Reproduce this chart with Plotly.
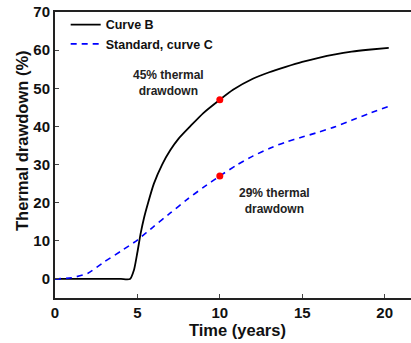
import plotly.graph_objects as go

# curve B (solid black)
b_years = [0, 1, 2, 3, 4, 4.55, 4.8, 5.0, 5.2, 5.4, 5.65, 6.0, 6.5, 7.0, 7.5, 8.2, 9.0,
           10.0, 10.8, 12.0, 13.0, 14.0, 15.0, 16.0, 17.0, 18.0, 19.0, 20.25]
b_drawdown = [0, 0, 0, 0, 0, 0, 2.5, 7, 12, 16, 20, 25, 30, 33.8, 36.8, 40, 43.5,
              47, 49.6, 52.5, 54.2, 55.6, 56.9, 58.0, 58.9, 59.6, 60.1, 60.6]

# standard, curve C (dashed blue)
c_years = [0, 1, 2, 3, 4, 5, 6, 7, 8, 9, 10, 11, 12, 13, 14, 15, 16, 17, 18, 19, 20.2]
c_drawdown = [0, 0.3, 1.5, 4.5, 7.3, 10.2, 13.8, 17.3, 20.8, 24, 27, 29.8, 32.2, 34.2,
              35.9, 37.2, 38.5, 39.9, 41.6, 43.3, 45.2]

# highlighted points at 10 years
dot_years = [10, 10]
dot_drawdown = [47, 27]

font = "Liberation Sans"
bold = dict(family=font, weight=700)

fig = go.Figure()
fig.add_trace(go.Scatter(x=b_years, y=b_drawdown, mode="lines", name="Curve B",
                         line=dict(color="black", width=1.8, shape="spline", smoothing=0.6)))
fig.add_trace(go.Scatter(x=c_years, y=c_drawdown, mode="lines", name="Standard, curve C",
                         line=dict(color="#0000ff", width=1.6, dash="6px,5px",
                                   shape="spline", smoothing=0.6)))
fig.add_trace(go.Scatter(x=dot_years, y=dot_drawdown, mode="markers", showlegend=False,
                         marker=dict(color="#ff0000", size=7)))

fig.add_annotation(x=6.9, y=51.5, text="45% thermal<br>drawdown", showarrow=False,
                   font=dict(size=12, color="#222222", **bold))
fig.add_annotation(x=13.3, y=20.5, text="29% thermal<br>drawdown", showarrow=False,
                   font=dict(size=12, color="#222222", **bold))

# axis titles as annotations so they sit where the original has them
fig.add_annotation(xref="paper", yref="paper", x=0.513, y=-0.112, text="Time (years)",
                   showarrow=False, yanchor="middle", font=dict(size=16.5, color="#111111", **bold))
fig.add_annotation(xref="paper", yref="paper", x=-0.093, y=0.552, text="Thermal drawdown (%)",
                   showarrow=False, textangle=-90, xanchor="center", yanchor="middle",
                   font=dict(size=16.5, color="#111111", **bold))

fig.update_layout(
    width=411, height=343,
    margin=dict(l=55, r=0, t=12, b=45),
    plot_bgcolor="white", paper_bgcolor="white",
    font=dict(color="#111111", **bold),
    showlegend=True,
    legend=dict(x=0.03, y=1.007, xanchor="left", yanchor="top", bgcolor="rgba(0,0,0,0)",
                font=dict(size=12.5, **bold), itemwidth=30, tracegroupgap=0),
)
fig.update_xaxes(
    range=[0, 21.6], tickvals=[0, 5, 10, 15, 20],
    ticks="inside", ticklen=4, tickwidth=1, showline=True, linewidth=2, linecolor="#222222",
    mirror=True, showgrid=False, zeroline=False, automargin=False,
    tickfont=dict(size=15, color="#111111", **bold),
)
fig.update_yaxes(
    range=[-5, 70], tickvals=[0, 10, 20, 30, 40, 50, 60, 70],
    ticks="inside", ticklen=4, tickwidth=1, showline=True, linewidth=2, linecolor="#222222",
    mirror=False, showgrid=False, zeroline=False, automargin=False,
    tickfont=dict(size=15, color="#111111", **bold),
)

# drop the default 8px page margin so the figure sits at the window corner
fig.write_html("out.html", config={"displayModeBar": False},
               post_script="document.body.style.margin='0';")
